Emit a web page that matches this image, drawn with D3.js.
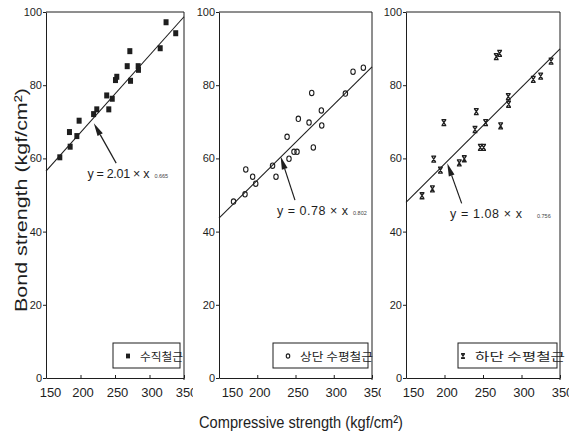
<!DOCTYPE html>
<html><head><meta charset="utf-8">
<script src="https://cdn.jsdelivr.net/npm/d3@7"></script>
<style>body{margin:0;background:#fff}svg{display:block}</style>
</head><body>
<svg id="c" width="581" height="438"></svg>
<script>
// ---- data ----
const xTicks = [150, 200, 250, 300, 350];
const yTicks = [0, 20, 40, 60, 80, 100];

const vertX = [170, 185, 184, 194.7, 198, 219, 223.6, 241, 238, 246, 250.7, 252.6, 267.7, 271.5, 272.5, 283.6, 284, 315.5, 324, 338];
const vertY = [60.3, 63.2, 67.2, 66.1, 70.3, 72.1, 73.4, 73.4, 77.2, 76.3, 81.4, 82.3, 85.2, 89.3, 81.2, 85.2, 84.2, 90.1, 97.2, 94.2];

const topX = [169, 184, 185, 194, 198, 220, 224.5, 239, 241.5, 248, 252, 253.7, 267.7, 271.2, 273.3, 283.8, 284.3, 315.2, 325.2, 338.7];
const topY = [48.2, 50.2, 57, 55, 53.1, 58, 55, 65.9, 59.9, 61.8, 61.8, 70.8, 69.8, 77.9, 63, 73.1, 69, 77.7, 83.7, 84.8];

const botX = [170.8, 184.3, 186, 194.7, 199.2, 219.2, 225.7, 239.6, 241.3, 246.5, 250.8, 253.4, 267.2, 271.6, 272.9, 282.8, 283.2, 315.3, 324.9, 338.4];
const botY = [49.8, 51.7, 59.8, 56.8, 69.8, 58.8, 59.9, 67.9, 72.8, 63, 63, 69.8, 87.8, 88.7, 68.9, 76.9, 74.8, 81.6, 82.5, 86.6];

const fitX = [150, 350];
const fit1Y = [56.5, 98.7];
const fit2Y = [43.7, 85];
const fit3Y = [48, 89.9];

const legendLabels = ["수직철근", "상단 수평철근", "하단 수평철근"];
const eqCoef = ["2.01", "0.78", "1.08"];
const eqExp = ["0.665", "0.802", "0.756"];
// equation anchor (data units) and arrow tail/head (data units)
const eqAt = [[210, 54.6], [225.8, 44.5], [207.1, 43.7]];
const arrowTail = [[251.7, 58.7], [249.3, 48.6], [222.3, 47.7]];
const arrowHead = [[219.3, 69.6], [230.6, 60.5], [203.6, 58.7]];

// ---- layout ----
const plotTop = 12, plotBottom = 378;
const panels = [
  {left: 46, right: 184, xs: vertX, ys: vertY, fit: fit1Y, marker: "square", off150: 4, eqW: 62, expDx: 5, legX: 67, legW: 67, legTxt: 94, legTL: 43},
  {left: 219, right: 372, xs: topX, ys: topY, fit: fit2Y, marker: "circle", off150: 13, eqW: 71, expDx: 5, legX: 54, legW: 95, legTxt: 81, legTL: 73},
  {left: 406, right: 560, xs: botX, ys: botY, fit: fit3Y, marker: "hour", off150: 7, eqW: 72, expDx: 15, legX: 52, legW: 99, legTxt: 69, legTL: 90}
];
const ink = "#1e1e1e";
const svg = d3.select("#c");
const defs = svg.append("defs");

function drawMarker(sel, type, s) {
  if (type === "square") {
    sel.append("rect").attr("x", -2.5 * s).attr("y", -3 * s).attr("width", 5 * s).attr("height", 6 * s).attr("fill", ink);
  } else if (type === "circle") {
    sel.append("ellipse").attr("rx", 2.2 * s).attr("ry", 2.7 * s).attr("fill", "none").attr("stroke", ink).attr("stroke-width", 1.1);
  } else {
    sel.append("path").attr("d", `M${-2.4*s},${-3*s}H${2.4*s}M${-2.4*s},${3*s}H${2.4*s}M${-2*s},${-3*s}L${2*s},${3*s}M${2*s},${-3*s}L${-2*s},${3*s}`)
      .attr("stroke", ink).attr("stroke-width", 1.3).attr("fill", "none");
  }
}

panels.forEach((p, i) => {
  const x = d3.scaleLinear().domain([150, 350]).range([p.left, p.right]);
  const y = d3.scaleLinear().domain([0, 100]).range([plotBottom, plotTop]);
  const g = svg.append("g");

  // frame (top and right)
  g.append("line").attr("x1", p.left).attr("x2", p.right).attr("y1", plotTop).attr("y2", plotTop).attr("stroke", ink).attr("stroke-width", 1);
  g.append("line").attr("x1", p.right).attr("x2", p.right).attr("y1", plotTop).attr("y2", plotBottom + 2).attr("stroke", ink).attr("stroke-width", 1);

  // y axis
  const ya = g.append("g").attr("transform", `translate(${p.left},0)`)
    .call(d3.axisLeft(y).tickValues(yTicks).tickSize(3).tickSizeOuter(0).tickPadding(1));
  ya.select(".domain").attr("stroke", ink);
  ya.selectAll(".tick line").attr("stroke", ink);
  ya.selectAll("text").attr("font-family", "Liberation Sans, Arial, sans-serif").attr("font-size", 11).attr("fill", ink);

  // x axis (labels clipped just past the right frame, like the scan)
  defs.append("clipPath").attr("id", "clip" + i).append("rect")
    .attr("x", p.left - 30).attr("y", -10).attr("width", p.right - p.left + 39).attr("height", 40);
  const xa = g.append("g").attr("transform", `translate(0,${plotBottom})`).attr("clip-path", `url(#clip${i})`)
    .call(d3.axisBottom(x).tickValues(xTicks).tickSize(-3).tickSizeOuter(0).tickPadding(10));
  xa.select(".domain").attr("stroke", ink);
  xa.selectAll(".tick line").attr("stroke", ink);
  xa.selectAll("text").attr("font-family", "Liberation Sans Narrow, Liberation Sans, Arial, sans-serif")
    .attr("font-size", 13).attr("fill", ink)
    .attr("dx", d => d === 150 ? p.off150 : 2);

  // fit line
  const line = d3.line().x(d => x(d[0])).y(d => y(d[1]));
  g.append("path").attr("d", line(fitX.map((v, k) => [v, p.fit[k]])))
    .attr("stroke", ink).attr("stroke-width", 1.1).attr("fill", "none");

  // points
  g.append("g").selectAll("g").data(p.xs.map((v, k) => [v, p.ys[k]])).join("g")
    .attr("transform", d => `translate(${x(d[0])},${y(d[1])})`)
    .each(function () { drawMarker(d3.select(this), p.marker, 1); });

  // arrow
  const tx = x(arrowTail[i][0]), ty = y(arrowTail[i][1]);
  const hx = x(arrowHead[i][0]), hy = y(arrowHead[i][1]);
  const ang = Math.atan2(hy - ty, hx - tx);
  const L = 13, W = 3;
  const bx = hx - L * Math.cos(ang), by = hy - L * Math.sin(ang);
  const nx = -Math.sin(ang), ny = Math.cos(ang);
  g.append("line").attr("x1", tx).attr("y1", ty).attr("x2", bx).attr("y2", by).attr("stroke", ink).attr("stroke-width", 1.2);
  g.append("path").attr("d", `M${hx},${hy}L${bx + nx * W},${by + ny * W}L${bx - nx * W},${by - ny * W}Z`).attr("fill", ink);

  // equation
  const ex = x(eqAt[i][0]), ey = y(eqAt[i][1]);
  g.append("text").attr("x", ex).attr("y", ey)
    .attr("font-family", "Liberation Sans, Arial, sans-serif").attr("font-size", 12.5).attr("fill", ink)
    .attr("textLength", p.eqW).attr("lengthAdjust", "spacing")
    .text(`y = ${eqCoef[i]} × x`);
  g.append("text").attr("x", ex + p.eqW + p.expDx).attr("y", ey)
    .attr("font-family", "Liberation Sans, Arial, sans-serif").attr("font-size", 5.5).attr("fill", "#444")
    .text(eqExp[i]);

  // legend
  const lg = g.append("g").attr("transform", `translate(${p.left + p.legX},${plotBottom - 35})`);
  lg.append("rect").attr("x", 0).attr("y", 0).attr("width", p.legW).attr("height", 25)
    .attr("fill", "#fff").attr("stroke", ink).attr("stroke-width", 1);
  const lm = lg.append("g").attr("transform", `translate(${p.legTxt - p.legX - 12},13)`);
  drawMarker(lm, p.marker, 0.8);
  lg.append("text").attr("x", p.legTxt - p.legX).attr("y", 17.5)
    .attr("font-family", "Noto Sans CJK KR, sans-serif").attr("font-size", 11).attr("fill", ink)
    .attr("textLength", p.legTL).attr("lengthAdjust", "spacingAndGlyphs")
    .text(legendLabels[i]);
});

// axis titles
svg.append("text").attr("transform", "translate(27,200) rotate(-90)")
  .attr("text-anchor", "middle").attr("font-family", "Liberation Sans, Arial, sans-serif")
  .attr("font-size", 17).attr("fill", ink)
  .attr("textLength", 224).attr("lengthAdjust", "spacingAndGlyphs")
  .text("Bond strength (kgf/cm²)");
svg.append("text").attr("x", 199).attr("y", 428)
  .attr("font-family", "Liberation Sans Narrow, Liberation Sans, Arial, sans-serif")
  .attr("font-size", 17).attr("fill", ink)
  .attr("textLength", 204).attr("lengthAdjust", "spacingAndGlyphs")
  .text("Compressive strength (kgf/cm²)");
</script>
</body></html>
